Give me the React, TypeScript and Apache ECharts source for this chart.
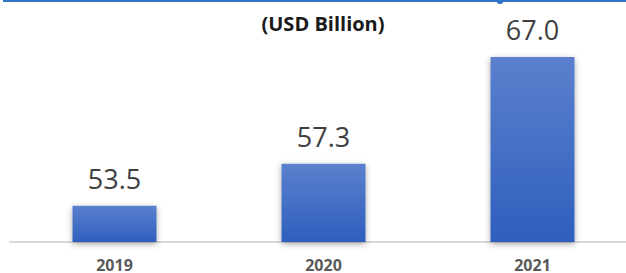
import React, { useEffect, useRef } from "react";
import * as echarts from "echarts";

const categories = ["2019", "2020", "2021"];
const values = [53.5, 57.3, 67.0];
const unitTitle = "(USD Billion)";

export default function App() {
  const ref = useRef<HTMLDivElement>(null);
  useEffect(() => {
    document.body.style.margin = "0";
    if (!ref.current) return;
    const chart = echarts.init(ref.current, undefined, { renderer: "svg" });
    chart.setOption({
      animation: false,
      backgroundColor: "#ffffff",
      title: {
        text: unitTitle,
        left: 318,
        top: 8,
        textAlign: "center",
        textStyle: {
          fontFamily: "Open Sans",
          fontWeight: "bold",
          fontSize: 20,
          color: "#1a1a1a",
        },
      },
      grid: {
        left: 10,
        width: 627,
        top: 24,
        bottom: 31,
        containLabel: false,
        outerBoundsMode: "none",
      },
      xAxis: {
        type: "category",
        data: categories,
        axisLine: { show: true, lineStyle: { color: "#d9d9d9", width: 2 } },
        axisTick: { show: false },
        axisLabel: {
          margin: 16,
          fontFamily: "Open Sans",
          fontWeight: "bold",
          fontSize: 16,
          lineHeight: 14,
          color: "#595959",
        },
      },
      yAxis: {
        type: "value",
        min: 50.2,
        max: 70,
        show: false,
        splitLine: { show: false },
      },
      series: [
        {
          type: "bar",
          data: values,
          barWidth: 84,
          itemStyle: {
            color: new echarts.graphic.LinearGradient(0, 0, 0, 1, [
              { offset: 0, color: "#5b80cd" },
              { offset: 1, color: "#2e5fbd" },
            ]),
            shadowBlur: 6,
            shadowColor: "rgba(0,0,0,0.35)",
            shadowOffsetY: 2,
          },
          label: {
            show: true,
            position: "top",
            distance: 14,
            fontFamily: "Open Sans",
            fontSize: 27,
            lineHeight: 27,
            color: "#404040",
            formatter: (p: any) => Number(p.value).toFixed(1),
          },
        },
      ],
      graphic: [
        {
          type: "rect",
          shape: { x: 3, y: 0, width: 623, height: 2 },
          style: { fill: "#2e75c6" },
        },
        {
          type: "circle",
          shape: { cx: 500, cy: 0, r: 4 },
          style: { fill: "#2e75c6" },
        },
      ],
    });
    return () => chart.dispose();
  }, []);
  return <div ref={ref} style={{ width: 626, height: 273 }} />;
}
